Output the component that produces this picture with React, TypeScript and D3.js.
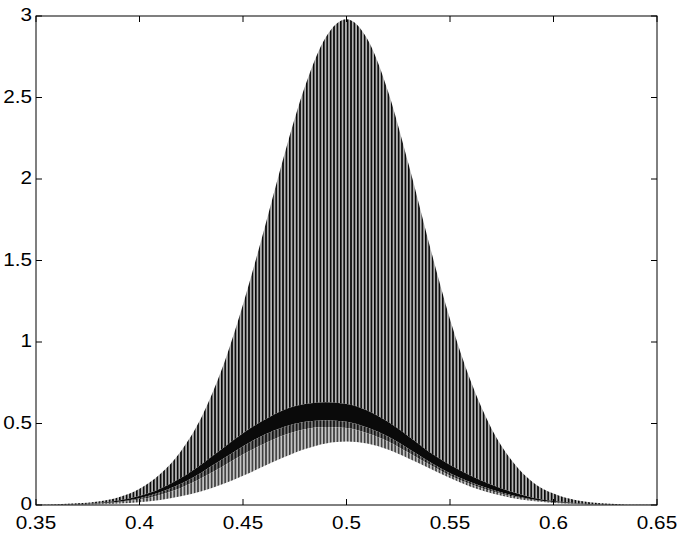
import React from "react";
import * as d3 from "d3";

// x positions (read at 0.01 steps)
const xs = [0.35,0.36,0.37,0.38,0.39,0.40,0.41,0.42,0.43,0.44,0.45,0.46,0.47,0.48,0.49,0.50,0.51,0.52,0.53,0.54,0.55,0.56,0.57,0.58,0.59,0.60,0.61,0.62,0.63,0.64,0.65];
// upper envelope of the oscillation
const upperEnv = [0.002,0.004,0.010,0.022,0.048,0.10,0.19,0.33,0.54,0.84,1.23,1.68,2.15,2.57,2.87,2.98,2.86,2.54,2.09,1.60,1.14,0.76,0.47,0.27,0.14,0.07,0.032,0.014,0.006,0.002,0.001];
// dense dark band: top edge
const bandTop = [0.001,0.002,0.005,0.012,0.027,0.055,0.10,0.165,0.25,0.345,0.44,0.52,0.585,0.62,0.63,0.62,0.58,0.51,0.42,0.325,0.245,0.18,0.125,0.08,0.045,0.024,0.012,0.005,0.002,0.001,0.0005];
// dense dark band: bottom edge
const bandBottom = [0.0008,0.0016,0.004,0.009,0.02,0.042,0.078,0.13,0.2,0.28,0.36,0.43,0.48,0.51,0.52,0.51,0.475,0.42,0.345,0.265,0.195,0.14,0.095,0.06,0.034,0.018,0.009,0.004,0.002,0.001,0.0004];
// darker grey zone below band
const subBand = [0.0006,0.0013,0.003,0.007,0.016,0.033,0.062,0.105,0.165,0.235,0.31,0.375,0.43,0.465,0.478,0.472,0.44,0.39,0.32,0.248,0.18,0.127,0.085,0.052,0.029,0.015,0.0075,0.0035,0.0015,0.0007,0.0003];
// lower envelope of the oscillation
const lowerEnv = [0.0003,0.001,0.002,0.004,0.009,0.017,0.031,0.053,0.084,0.127,0.179,0.237,0.294,0.344,0.378,0.39,0.377,0.34,0.285,0.225,0.165,0.112,0.072,0.043,0.024,0.012,0.006,0.003,0.001,0.0005,0.0002];

const xTicks = [0.35,0.4,0.45,0.5,0.55,0.6,0.65];
const xTickLabels = ["0.35","0.4","0.45","0.5","0.55","0.6","0.65"];
const yTicks = [0,0.5,1,1.5,2,2.5,3];
const yTickLabels = ["0","0.5","1","1.5","2","2.5","3"];

const W = 684, H = 536;
const L = 36, R = 657, T = 16, B = 505;
const FONT = "'Liberation Sans', Arial, Helvetica, sans-serif";
const FS = 19;
const SX = 1.09;

export default function App() {
  const x = d3.scaleLinear().domain([0.35, 0.65]).range([L, R]);
  const y = d3.scaleLinear().domain([0, 3]).range([B, T]);

  const band = (lo: number[], hi: number[]) =>
    d3.area<number>()
      .x((_, i) => x(xs[i]))
      .y0((_, i) => y(lo[i]))
      .y1((_, i) => y(hi[i]))
      .curve(d3.curveMonotoneX)(xs) || "";

  const tl = 6;
  return (
    <svg width={W} height={H} style={{ position: "absolute", left: 0, top: 0, background: "#fff" }}>
      <defs>
        <pattern id="pA" patternUnits="userSpaceOnUse" width={3.4} height={10}>
          <rect x={0} y={0} width={3.4} height={10} fill="#b4b4b4" />
          <rect x={0} y={0} width={1.6} height={10} fill="#050505" />
        </pattern>
        <pattern id="pB" patternUnits="userSpaceOnUse" width={3.4} height={10}>
          <rect x={0} y={0} width={3.4} height={10} fill="#c4c4c4" />
          <rect x={0} y={0} width={1.6} height={10} fill="#3a3a3a" />
        </pattern>
        <pattern id="pC" patternUnits="userSpaceOnUse" width={3.4} height={10}>
          <rect x={0} y={0} width={3.4} height={10} fill="#777" />
          <rect x={0} y={0} width={1.6} height={10} fill="#111" />
        </pattern>
        <clipPath id="clip">
          <rect x={L} y={T - 2} width={R - L} height={B - T + 2} />
        </clipPath>
      </defs>
      <g clipPath="url(#clip)">
        <path d={band(bandTop, upperEnv)} fill="url(#pA)" />
        <path d={band(bandBottom, bandTop)} fill="#0a0a0a" />
        <path d={band(subBand, bandBottom)} fill="url(#pC)" />
        <path d={band(lowerEnv, subBand)} fill="url(#pB)" />
      </g>
      {/* box */}
      <rect x={L} y={T} width={R - L} height={B - T} fill="none" stroke="#000" strokeWidth={1} />
      {/* x ticks */}
      {xTicks.map((t, i) => (
        <g key={"x" + i}>
          <line x1={x(t)} x2={x(t)} y1={B} y2={B - tl} stroke="#000" />
          <line x1={x(t)} x2={x(t)} y1={T} y2={T + tl} stroke="#000" />
          <text
            transform={`translate(${x(t)},528.5) scale(${SX},1)`}
            textAnchor="middle"
            fontFamily={FONT}
            fontSize={FS}
            fill="#000"
          >
            {xTickLabels[i]}
          </text>
        </g>
      ))}
      {/* y ticks */}
      {yTicks.map((t, i) => (
        <g key={"y" + i}>
          <line x1={L} x2={L + tl} y1={y(t)} y2={y(t)} stroke="#000" />
          <line x1={R} x2={R - tl} y1={y(t)} y2={y(t)} stroke="#000" />
          <text
            transform={`translate(32,${Math.max(y(t), 11) - 1.5 + 0.358 * FS}) scale(${SX},1)`}
            textAnchor="end"
            fontFamily={FONT}
            fontSize={FS}
            fill="#000"
          >
            {yTickLabels[i]}
          </text>
        </g>
      ))}
    </svg>
  );
}
